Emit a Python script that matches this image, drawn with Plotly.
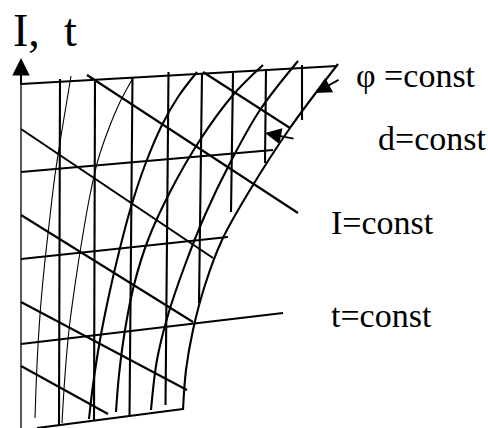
import plotly.graph_objects as go

# Nomogram sketch: grid of t=const, I=const, d=const and phi=const lines
# Coordinates are in drawing units (x to the right, y downward).

# t = const lines (nearly horizontal)
t_const = [
    [(21, 84), (337, 66)],
    [(21, 172), (273, 150)],
    [(21, 259), (228, 237)],
    [(21, 344), (283, 313)],
    [(37, 428), (183, 409)],
]

# I = const lines (descending diagonals)
i_const = [
    [(203, 72), (290, 128)],
    [(87, 75), (298, 213)],
    [(21, 129), (213, 258)],
    [(21, 215), (193, 322)],
    [(21, 302), (187, 390)],
    [(21, 366), (108, 414)],
]

# d = const lines (near vertical)
d_const = [
    [(60, 79), (59, 425)],
    [(95, 80), (94, 420)],
    [(132.5, 77), (129.5, 416)],
    [(168.5, 72), (165.5, 405)],
    [(202, 73), (199, 303)],
    [(233, 73), (231, 212)],
    [(266, 69), (265, 163)],
    [(302, 65), (302, 120)],
]

# phi = const curves: two thin ones, then the thick family ending with the boundary
phi_thin = [
    [(71, 76), (62, 130), (55, 175), (49, 225), (44, 270), (40, 315), (37, 365), (35, 418)],
    [(133, 78), (120, 102), (109, 128), (98, 160), (90, 195), (82, 240), (75, 285),
     (69, 330), (65, 375), (62, 423)],
]
phi_thick = [
    [(197, 72), (178, 97), (162, 125), (145, 165), (131, 207), (119, 252), (109, 295),
     (100, 340), (93, 385), (89, 419)],
    [(263, 65), (233, 95), (200, 140), (170, 192), (148, 240), (134, 285), (125, 330),
     (119, 375), (116, 412)],
    [(298, 61), (260, 110), (230, 163), (205, 215), (185, 265), (168, 315), (157, 360),
     (151, 410)],
    [(338, 64), (290, 128), (250, 190), (222, 240), (205, 285), (193, 330), (186, 370),
     (183, 410)],
]

# vertical axis
axis_x = [21, 21]
axis_y = [84, 428]
axis_arrow = ((21, 86), (21, 58))

# pointer arrows: (tail, tip)
pointers = [((340, 79), (315, 93)), ((295, 139), (265, 133))]

# labels: (text, left x, middle y, size)
labels = [
    ("I,", 12, 30, 46),
    ("t", 63, 30, 46),
    ("\u03c6 =const", 355, 75, 34),
    ("d=const", 377, 138, 34),
    ("I=const", 330, 222, 34),
    ("t=const", 330, 315, 34),
]

fig = go.Figure()


def add_line(pts, width, spline=False):
    xs = [p[0] for p in pts]
    ys = [p[1] for p in pts]
    fig.add_trace(go.Scatter(
        x=xs, y=ys, mode="lines",
        line=dict(color="black", width=width,
                  shape="spline" if spline else "linear", smoothing=1.0),
        hoverinfo="skip", showlegend=False,
    ))


fig.add_trace(go.Scatter(x=axis_x, y=axis_y, mode="lines",
                         line=dict(color="black", width=1.3),
                         hoverinfo="skip", showlegend=False))

for seg in t_const + i_const + d_const:
    add_line(seg, 2.1)
for c in phi_thin:
    add_line(c, 1.1, spline=True)
for c in phi_thick:
    add_line(c, 2.1, spline=True)

annotations = []
(ax0, ay0), (tx, ty) = axis_arrow
annotations.append(dict(x=tx, y=ty, ax=ax0, ay=ay0, xref="x", yref="y",
                        axref="x", ayref="y", text="", showarrow=True,
                        arrowhead=2, arrowwidth=2, arrowsize=1.75,
                        arrowcolor="black", standoff=0))
for (tail, tip) in pointers:
    annotations.append(dict(x=tip[0], y=tip[1], ax=tail[0], ay=tail[1],
                            xref="x", yref="y", axref="x", ayref="y", text="",
                            showarrow=True, arrowhead=2, arrowwidth=1.8,
                            arrowsize=1.8, arrowcolor="black", standoff=0))
for text, lx, my, size in labels:
    annotations.append(dict(x=lx, y=my, xref="x", yref="y", text=text,
                            showarrow=False, xanchor="left", yanchor="middle",
                            borderpad=0,
                            font=dict(family="Liberation Serif", size=size,
                                      color="black")))

fig.update_layout(
    width=488, height=428,
    margin=dict(l=0, r=0, t=0, b=0),
    paper_bgcolor="white", plot_bgcolor="white",
    xaxis=dict(range=[0, 488], visible=False, fixedrange=True),
    yaxis=dict(range=[428, 0], visible=False, fixedrange=True),
    annotations=annotations,
    showlegend=False,
)

fig.write_html("out.html")
